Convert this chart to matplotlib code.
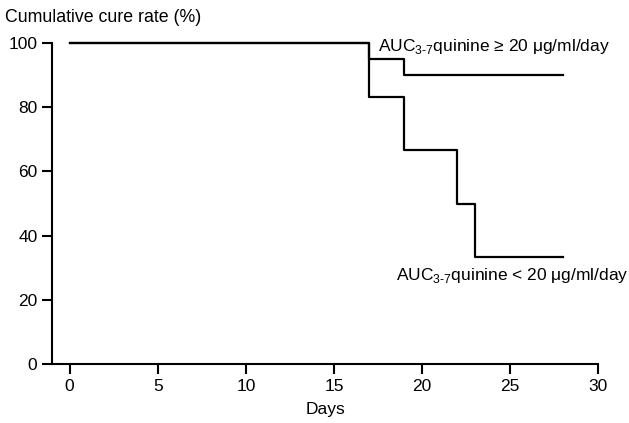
import numpy as np
import matplotlib
matplotlib.use("Agg")
import matplotlib.pyplot as plt

plt.rcParams['font.family'] = ['Liberation Sans', 'DejaVu Sans']
plt.rcParams['mathtext.fontset'] = 'custom'
plt.rcParams['mathtext.rm'] = 'Liberation Sans'

# Kaplan-Meier style step data (days, cumulative cure rate %)
high_days = [0, 17, 19, 28]
high_rate = [100, 95, 90, 90]
low_days = [0, 17, 19, 22, 23, 28]
low_rate = [100, 83.3, 66.7, 50, 33.3, 33.3]

x_ticks = [0, 5, 10, 15, 20, 25, 30]
y_ticks = [0, 20, 40, 60, 80, 100]

high_label = "AUC$_{\\text{3-7}}$quinine \u2265 20 \u03bcg/ml/day"
low_label = "AUC$_{\\text{3-7}}$quinine < 20 \u03bcg/ml/day"

fs = 12.5

fig = plt.figure(figsize=(6.29, 4.23), dpi=100)
ax = fig.add_axes([0.0827, 0.1395, 0.8683, 0.7585])

ax.step(high_days, high_rate, where='post', color='black', lw=1.6, clip_on=False)
ax.step(low_days, low_rate, where='post', color='black', lw=1.6, clip_on=False)

ax.text(17.5, 98.8, high_label, fontsize=fs, va='center', ha='left')
ax.text(18.5, 27.5, low_label, fontsize=fs, va='center', ha='left')

ax.set_xlim(-1, 30)
ax.set_ylim(0, 100)
ax.set_xticks(x_ticks)
ax.set_yticks(y_ticks)
ax.tick_params(direction='out', length=7, width=1.5, labelsize=fs)
for side in ['top', 'right']:
    ax.spines[side].set_visible(False)
for side in ['left', 'bottom']:
    ax.spines[side].set_linewidth(1.5)

ax.set_xlabel("Days", fontsize=fs, labelpad=6)
fig.text(5 / 629, 1 - 18 / 423, "Cumulative cure rate (%)", fontsize=12.8,
         ha='left', va='center')

fig.savefig("out.png", dpi=100)
